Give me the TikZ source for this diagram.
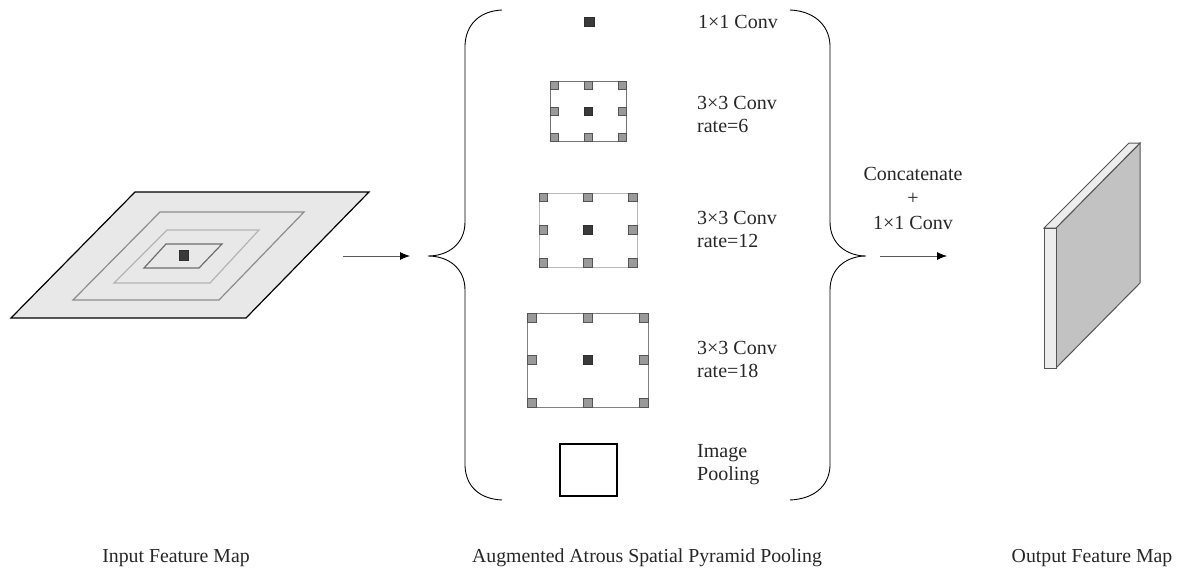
\documentclass[tikz,border=0pt]{standalone}
\usepackage{fontspec}
\setmainfont{Liberation Serif}
\usetikzlibrary{arrows.meta}
\definecolor{mapfill}{HTML}{E8E8E8}
\definecolor{ringA}{HTML}{8C8C8C}
\definecolor{ringB}{HTML}{B4B4B4}
\definecolor{ringC}{HTML}{6E6E6E}
\definecolor{darksq}{HTML}{3A3A3A}
\definecolor{smallfill}{HTML}{9A9A9A}
\definecolor{smalledge}{HTML}{555555}
\definecolor{sidefill}{HTML}{C2C2C2}
\definecolor{stripfill}{HTML}{EDEDED}
\tikzset{
  lbl/.style={anchor=west, align=left, inner sep=0pt, font=\fontsize{20}{23}\selectfont, text=black!85},
  captext/.style={anchor=base, inner sep=0pt, font=\fontsize{19.8}{22}\selectfont, text=black!85},
  tap/.style={draw=smalledge, fill=smallfill, line width=0.9pt},
  ctr/.style={draw=darksq!80!black, fill=darksq, line width=0.6pt},
  flow/.style={draw=black!65, line width=0.8pt, -{Latex[length=10pt,width=8pt,color=black]}},
  bracestyle/.style={draw=black, line width=0.9pt},
}
\newcommand{\taps}[5]{% x1 y1 x2 y2 size
  \pgfmathsetmacro{\xm}{(#1+#3)/2}\pgfmathsetmacro{\ym}{(#2+#4)/2}
  \foreach \px/\ax in {#1/0,\xm/0.5,#3/1}{
    \foreach \py/\ay in {#2/0,\ym/0.5,#4/1}{
      \pgfmathsetmacro{\sx}{\px-\ax*#5}\pgfmathsetmacro{\sy}{\py-\ay*#5}
      \ifdim\ax pt=0.5pt\ifdim\ay pt=0.5pt
        \path[ctr] (\sx,\sy) rectangle ++(#5,#5);
      \else
        \path[tap] (\sx,\sy) rectangle ++(#5,#5);
      \fi\else
        \path[tap] (\sx,\sy) rectangle ++(#5,#5);
      \fi
    }
  }
}
\begin{document}
\begin{tikzpicture}[x=1pt,y=-1pt]
\useasboundingbox (0,0) rectangle (1178,570);
% Input feature map
\filldraw[fill=mapfill, draw=black, line width=1.2pt] (135,192) -- (369,192) -- (246,318) -- (11,318) -- cycle;
\draw[ringA, line width=1.2pt] (160,212) -- (304,212) -- (219,300) -- (73,300) -- cycle;
\draw[ringB, line width=1.2pt] (167,230) -- (259,230) -- (210,283) -- (114,283) -- cycle;
\draw[ringC, line width=1.2pt] (166,244) -- (222,244) -- (199,268) -- (144,268) -- cycle;
\path[ctr] (179,250) rectangle (188,260);
\coordinate (inmap) at (343,256);
% braces
\coordinate (lbrace) at (428,256);
\coordinate (rbrace) at (866,256);
\draw[bracestyle] (502,10) .. controls (480,11) and (466,24) .. (465,45) -- (465,222)
  .. controls (465,244) and (448,256) .. (lbrace)
  .. controls (448,256) and (465,268) .. (465,290) -- (465,466)
  .. controls (466,487) and (480,499) .. (502,500);
\draw[bracestyle] (790,10) .. controls (813,11) and (829,24) .. (830,45) -- (830,222)
  .. controls (830,244) and (847,256) .. (rbrace)
  .. controls (847,256) and (830,268) .. (830,290) -- (830,466)
  .. controls (829,487) and (813,499) .. (790,500);
\coordinate (aspp) at (410,256);
\draw[flow] (inmap) -- (aspp);
% 1x1 conv
\path[ctr] (584,17) rectangle (594,26);
\node[lbl] (t1) at (698,22) {1×1 Conv};
% rate 6
\draw[black!55, line width=1pt] (550,81) rectangle (626,141);
\taps{550}{81}{626}{141}{8}
\node[lbl] (t2) at (697,114.5) {3×3 Conv\\rate=6};
% rate 12
\draw[black!28, line width=1pt] (539,193) rectangle (637,267);
\taps{539}{193}{637}{267}{8.5}
\node[lbl] (t3) at (697,229.5) {3×3 Conv\\rate=12};
% rate 18
\draw[black!50, line width=1pt] (527,313) rectangle (648,407);
\taps{527}{313}{648}{407}{9}
\node[lbl] (t4) at (697,359.5) {3×3 Conv\\rate=18};
% image pooling
\draw[black, line width=1.3pt] (560,444) rectangle (617,496);
\node[lbl] (t5) at (697,465) {Image\\Pooling};
% concatenate
\node[anchor=center, align=center, inner sep=0pt, font=\fontsize{20}{24.5}\selectfont, text=black!85] (cc) at (913,198) {Concatenate\\+\\1×1 Conv};
\coordinate (catstart) at (880,256);
\coordinate (outmap) at (947,256);
\draw[flow] (catstart) -- (outmap);
% output feature map
\filldraw[fill=sidefill, draw=smalledge, line width=1pt] (1056,228) -- (1140,143) -- (1140,283) -- (1056,368) -- cycle;
\filldraw[fill=stripfill, draw=smalledge, line width=1pt] (1044,228) -- (1129,143) -- (1140,143) -- (1056,228) -- cycle;
\filldraw[fill=stripfill, draw=smalledge, line width=1pt] (1044,228) rectangle (1056,368);
% captions
\node[captext] (c1) at (176,562) {Input Feature Map};
\node[captext] (c2) at (647,562) {Augmented Atrous Spatial Pyramid Pooling};
\node[captext] (c3) at (1092,562) {Output Feature Map};
\end{tikzpicture}
\end{document}
